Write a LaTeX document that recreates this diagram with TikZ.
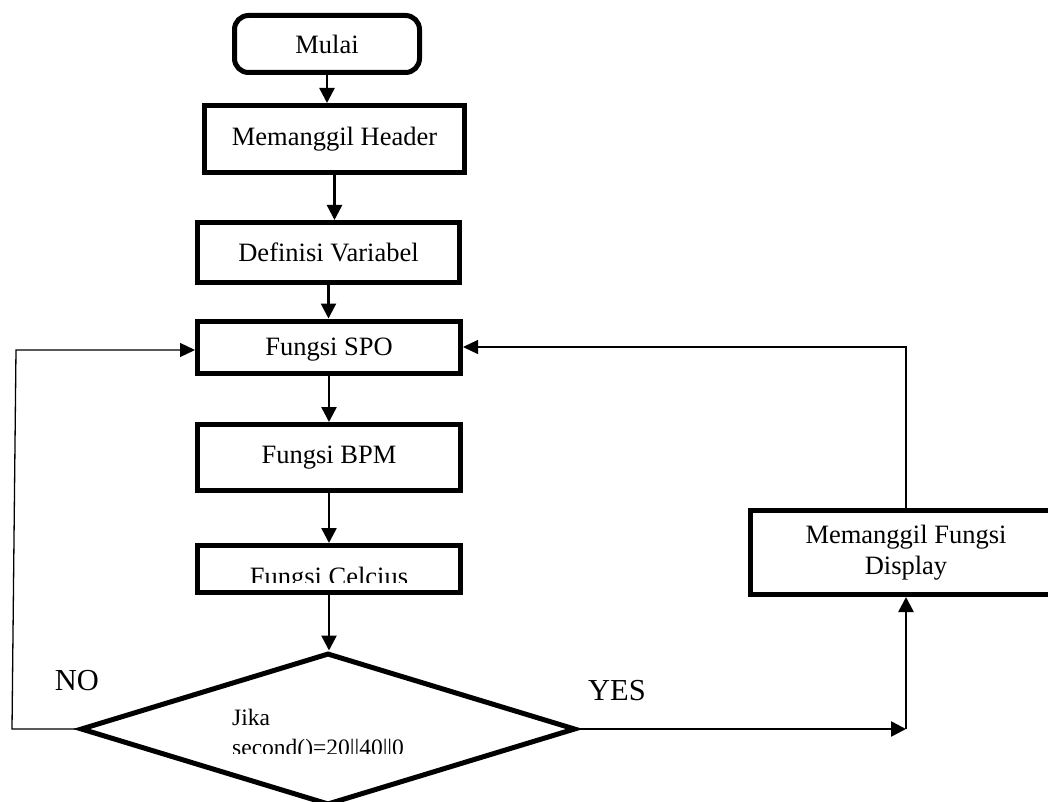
\documentclass[tikz,border=0pt]{standalone}
\usepackage{fontspec}
\setmainfont{Liberation Serif}
\usetikzlibrary{arrows.meta,shapes.geometric}
\begin{document}
\begin{tikzpicture}[x=1pt,y=-1pt,
  box/.style={draw,line width=5pt,rectangle,inner sep=0pt,align=center,font=\fontsize{26.5}{31}\selectfont},
  startbox/.style={box,rounded corners=14pt},
  decision/.style={draw,line width=5pt,diamond,inner sep=0pt},
  conn/.style={line width=2.5pt,-{Triangle[length=15pt,width=15pt]}},
  thinconn/.style={line width=1.3pt,-{Triangle[length=15pt,width=14pt]}},
  lbl/.style={inner sep=0pt,font=\fontsize{30.5}{34}\selectfont},
  dtext/.style={inner sep=0pt,align=left,font=\fontsize{23.5}{30}\selectfont}]
\useasboundingbox (0,0) rectangle (1048,802);
\clip (0,0) rectangle (1048,802);

\node[startbox,minimum width=185pt,minimum height=57pt] (mulai) at (327,44) {Mulai};
\node[box,minimum width=260pt,minimum height=67pt] (header) at (334.5,139) {Memanggil Header};
\node[box,minimum width=262pt,minimum height=60pt] (def) at (328.5,252.5) {Definisi Variabel};
\node[box,minimum width=263pt,minimum height=52pt,text depth=0pt] (spo) at (329,347) {Fungsi SPO};
\node[box,minimum width=263pt,minimum height=66pt] (bpm) at (329,457.5) {Fungsi BPM};
\node[box,minimum width=263pt,minimum height=47pt] (cel) at (329,569) {};
\begin{scope}
  \clip (195,540) rectangle (463,582);
  \node[anchor=base,inner sep=0pt,font=\fontsize{26.5}{31}\selectfont] (celtext) at (329,585) {Fungsi Celcius};
\end{scope}
\node[decision,minimum width=495pt,minimum height=152pt] (dia) at (328,729) {};
\begin{scope}
  \clip (200,690) rectangle (460,753);
  \node[dtext,anchor=north west] (diatext) at (232,709) {Jika\\second()=20||40||0};
\end{scope}
\node[box,minimum width=311pt,minimum height=84pt] (disp) at (906,552.5) {Memanggil Fungsi\\Display};

\node[lbl] (no) at (77,681) {NO};
\node[lbl] (yes) at (617,691) {YES};

\draw[conn] (mulai.south) -- (mulai.south |- header.north);
\draw[conn] (header.south) -- (header.south |- def.north);
\draw[conn] (def.south) -- (def.south |- spo.north);
\draw[conn] (spo.south) -- (spo.south |- bpm.north);
\draw[conn] (bpm.south) -- (bpm.south |- cel.north);
\draw[conn] (cel.south) -- (cel.south |- dia.north);

\coordinate (lb) at (12,729);
\coordinate (lt) at (16,350);
\draw[thinconn] (dia.west) -- (lb) -- (lt) -- (lt -| spo.west);
\draw[thinconn] (disp.north) |- (spo.east);

\coordinate (yc) at (906,729);
\draw[conn] (dia.east) -- (yc);
\draw[conn] (yc) -- (disp.south);
\end{tikzpicture}
\end{document}
